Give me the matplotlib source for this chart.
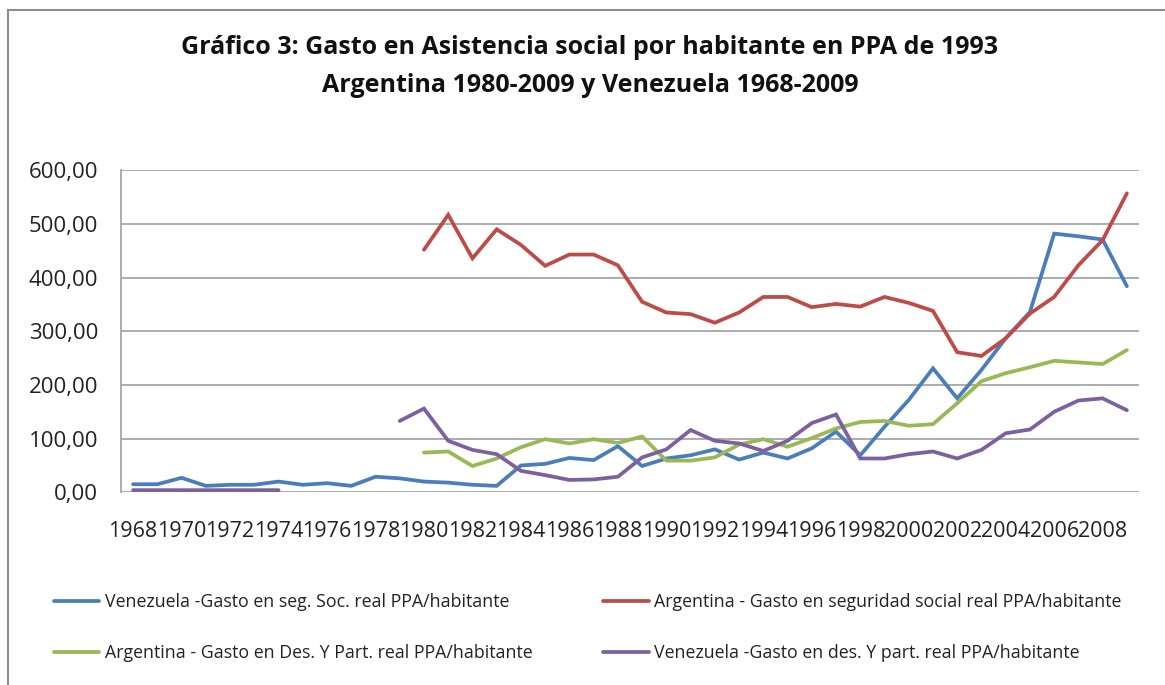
"""
Gráfico 3: gasto en asistencia social por habitante, Argentina y Venezuela
"""

import matplotlib
matplotlib.use("Agg")
import matplotlib.pyplot as plt
from matplotlib.lines import Line2D
from matplotlib.ticker import FuncFormatter
import numpy as np

years = list(range(1968, 2010))

# Venezuela - seg. soc. (1968-2009)
ven_seg = [15, 15, 27, 12, 14, 14, 20, 14, 17, 12, 29, 26,
           20, 18, 14, 12, 50, 53, 64, 60, 86, 49, 63, 69, 80, 61,
           74, 63, 82, 113, 69, 122, 172, 231, 175, 228, 287, 336,
           482, 477, 471, 384]

# Argentina - seguridad social (1980-2009)
arg_seg = [None] * 12 + [
    452, 517, 436, 490, 461, 422, 443, 443, 423, 355, 335, 332, 316, 335,
    364, 364, 345, 351, 346, 364, 353, 338, 261, 254, 287, 333, 364, 423,
    470, 557]

# Argentina - Des. y Part. (1980-2009)
arg_des = [None] * 12 + [
    74, 76, 49, 63, 84, 99, 91, 99, 92, 104, 59, 59, 65, 89, 99, 85, 101,
    119, 131, 133, 124, 127, 166, 207, 222, 233, 245, 242, 239, 265]

# Venezuela - des. y part. (1968-1974, 1979-2009)
ven_des = [4, 4, 4, 4, 4, 4, 4, None, None, None, None,
           133, 156, 96, 79, 71, 40, 32, 23, 24, 29, 65, 80, 116, 96, 91,
           77, 96, 129, 145, 63, 63, 71, 76, 63, 79, 110, 117, 150, 171,
           175, 153]

labels = [
    "Venezuela -Gasto en seg. Soc. real PPA/habitante",
    "Argentina - Gasto en seguridad social real PPA/habitante",
    "Argentina - Gasto en Des. Y Part. real PPA/habitante",
    "Venezuela -Gasto en des. Y part. real PPA/habitante",
]
colors = ["#4A7EBB", "#BE4B48", "#98B954", "#7D60A0"]


def to_arr(vals):
    return np.array([np.nan if v is None else v for v in vals], dtype=float)


plt.rcParams["font.family"] = ["Open Sans", "DejaVu Sans"]

fig = plt.figure(figsize=(11.65, 6.85), dpi=100)
ax = fig.add_axes([121 / 1165, 1 - 492.3 / 685, 1018 / 1165, 322 / 685])

x = np.arange(len(years))
series = [ven_seg, arg_seg, arg_des, ven_des]
handles = []
for vals, col, lab in zip(series, colors, labels):
    (ln,) = ax.plot(x, to_arr(vals), color=col, lw=2.7, label=lab,
                    solid_joinstyle="miter", solid_capstyle="round")
    handles.append(ln)

ax.set_xlim(-0.5, len(years) - 0.5)
ax.set_ylim(0, 600)
ax.set_yticks(np.arange(0, 601, 100))
ax.yaxis.set_major_formatter(FuncFormatter(lambda v, p: f"{v:.2f}".replace(".", ",")))
ax.set_xticks(x[::2])
ax.set_xticklabels([str(y) for y in years[::2]])
ax.tick_params(axis="both", length=0, colors="#222222")
ax.tick_params(axis="x", pad=21, labelsize=15.5)
ax.tick_params(axis="y", pad=16.5, labelsize=16)

ax.grid(axis="y", color="#a6a6a6", lw=1.3)
ax.set_axisbelow(True)
for s in ["top", "right", "bottom"]:
    ax.spines[s].set_visible(False)
ax.spines["left"].set_color("#a6a6a6")
ax.spines["left"].set_linewidth(1.3)

fig.text(590 / 1165, 1 - 48 / 685,
         "Gráfico 3: Gasto en Asistencia social por habitante en PPA de 1993",
         ha="center", va="center", fontsize=18, fontweight="bold", color="#111111")
fig.text(590 / 1165, 1 - 85 / 685,
         "Argentina 1980-2009 y Venezuela 1968-2009",
         ha="center", va="center", fontsize=18, fontweight="bold", color="#111111")

# legend order: column 1 blue/green, column 2 red/purple
order = [0, 2, 1, 3]
fig.legend([handles[i] for i in order], [labels[i] for i in order],
           ncol=2, loc="upper left", bbox_to_anchor=(54 / 1165, 1 - 593 / 685),
           frameon=False, fontsize=12.8, handlelength=2.55, handletextpad=0.3,
           columnspacing=4.0, labelspacing=1.88, borderpad=0, borderaxespad=0,
           labelcolor="#222222")

# outer chart border (top and left edges visible)
fig.add_artist(Line2D([8 / 1165, 8 / 1165], [0, 1 - 9.5 / 685],
                      color="#8c8c8c", lw=1.5, transform=fig.transFigure))
fig.add_artist(Line2D([8 / 1165, 1], [1 - 9.5 / 685, 1 - 9.5 / 685],
                      color="#8c8c8c", lw=1.5, transform=fig.transFigure))

plt.savefig("out.png", dpi=100)
plt.close(fig)
